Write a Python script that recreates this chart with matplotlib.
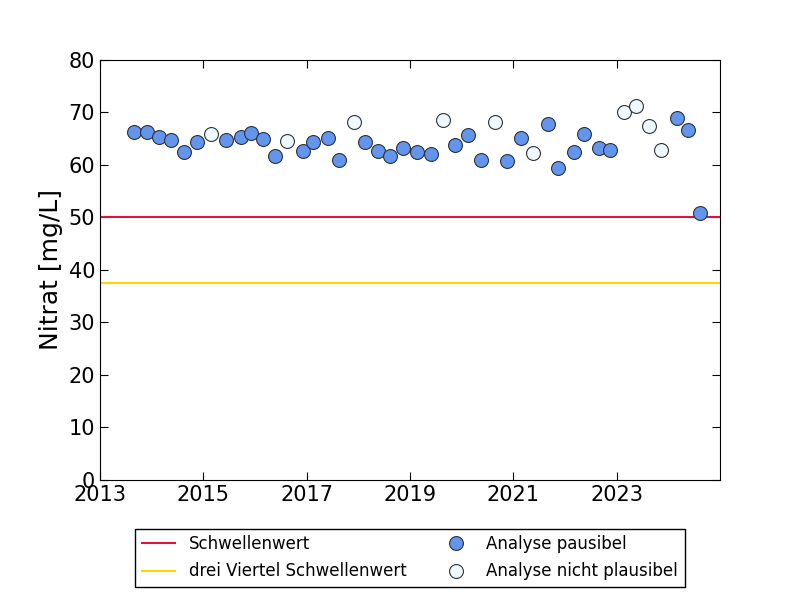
import matplotlib
matplotlib.use("Agg")
import matplotlib.pyplot as plt
import numpy as np

# Sample dates (decimal years) and nitrate values in mg/L
jahr = [2013.66, 2013.90, 2014.15, 2014.38, 2014.63, 2014.88, 2015.15, 2015.43,
        2015.72, 2015.93, 2016.15, 2016.39, 2016.62, 2016.92, 2017.13, 2017.41,
        2017.63, 2017.92, 2018.12, 2018.39, 2018.62, 2018.87, 2019.14, 2019.41,
        2019.64, 2019.88, 2020.12, 2020.38, 2020.65, 2020.88, 2021.15, 2021.39,
        2021.68, 2021.87, 2022.18, 2022.37, 2022.66, 2022.88, 2023.15, 2023.38,
        2023.63, 2023.86, 2024.17, 2024.39, 2024.61]
nitrat = [66.2, 66.2, 65.3, 64.7, 62.5, 64.4, 65.9, 64.7,
          65.3, 66.0, 64.9, 61.7, 64.5, 62.6, 64.3, 65.1,
          61.0, 68.1, 64.3, 62.6, 61.7, 63.2, 62.4, 62.0,
          68.5, 63.8, 65.7, 60.9, 68.1, 60.8, 65.1, 62.3,
          67.9, 59.4, 62.5, 65.9, 63.2, 62.8, 70.0, 71.2,
          67.4, 62.8, 68.9, 66.6, 50.8]
plausibel = [1, 1, 1, 1, 1, 1, 0, 1,
             1, 1, 1, 1, 0, 1, 1, 1,
             1, 0, 1, 1, 1, 1, 1, 1,
             0, 1, 1, 1, 0, 1, 1, 0,
             1, 1, 1, 1, 1, 1, 0, 0,
             0, 0, 1, 1, 1]

schwellenwert = 50.0
drei_viertel = 37.5

jahr = np.array(jahr)
nitrat = np.array(nitrat)
ok = np.array(plausibel) == 1

fig, ax = plt.subplots(figsize=(8, 6), dpi=100)
fig.subplots_adjust(left=0.125, right=0.9, top=0.9, bottom=0.2)

ax.axhline(schwellenwert, color='crimson', linewidth=1.5, label='Schwellenwert')
ax.axhline(drei_viertel, color='gold', linewidth=1.5, label='drei Viertel Schwellenwert')

ax.plot(jahr[ok], nitrat[ok], 'o', markersize=10, markerfacecolor='cornflowerblue',
        markeredgecolor='#2b3340', markeredgewidth=0.8, label='Analyse pausibel', zorder=3)
ax.plot(jahr[~ok], nitrat[~ok], 'o', markersize=10, markerfacecolor='aliceblue',
        markeredgecolor='#2b3340', markeredgewidth=0.8, label='Analyse nicht plausibel', zorder=3)

ax.set_xlim(2013, 2025.0)
ax.set_ylim(0, 80)
ax.set_xticks([2013, 2015, 2017, 2019, 2021, 2023])
ax.set_yticks(range(0, 81, 10))
ax.tick_params(direction='in', top=True, right=True, labelsize=15, length=6)
ax.set_ylabel('Nitrat [mg/L]', fontsize=18)

leg = ax.legend(loc='upper center', bbox_to_anchor=(0.5, -0.1), ncol=2, fontsize=12,
                numpoints=1, fancybox=False, edgecolor='black', framealpha=1,
                columnspacing=2.0, handlelength=2.0, handletextpad=0.8,
                borderpad=0.4, labelspacing=0.55, borderaxespad=0.4)
leg.get_frame().set_linewidth(1.0)

plt.savefig('out.png', dpi=100)
